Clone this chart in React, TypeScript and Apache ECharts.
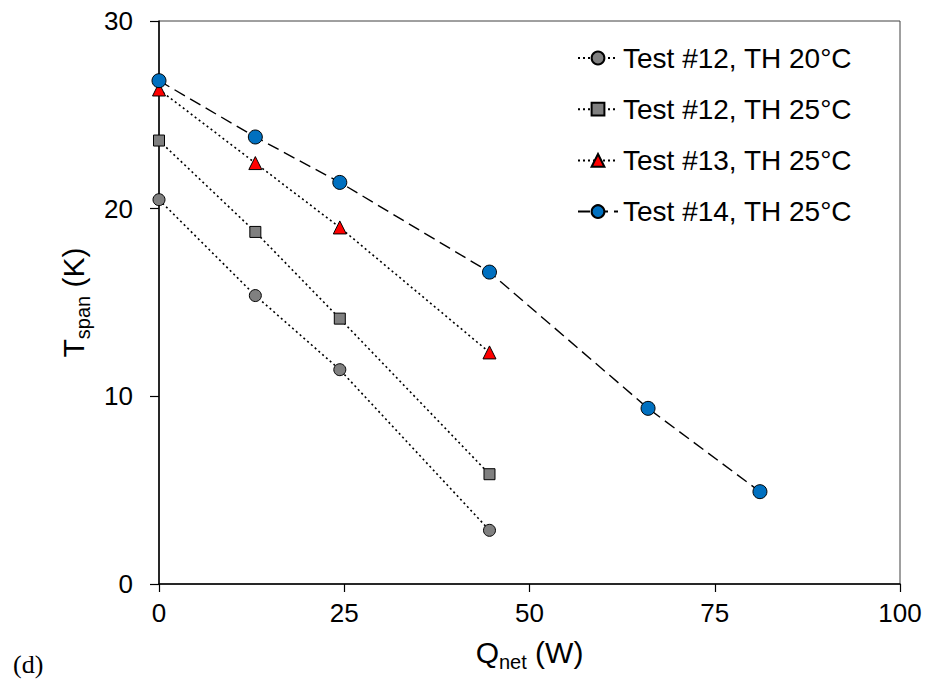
import React, { useEffect, useRef } from "react";
import * as echarts from "echarts";

const seriesNames = [
  "Test #12, TH 20°C",
  "Test #12, TH 25°C",
  "Test #13, TH 25°C",
  "Test #14, TH 25°C",
];
const qShort = [0, 13, 24.4, 44.6];
const qLong = [0, 13, 24.4, 44.6, 66.0, 81.1];
const test12TH20 = [20.48, 15.37, 11.42, 2.86];
const test12TH25 = [23.63, 18.76, 14.14, 5.85];
const test13TH25 = [26.35, 22.43, 19.0, 12.34];
const test14TH25 = [26.82, 23.82, 21.4, 16.62, 9.36, 4.92];
const xTicks = [0, 25, 50, 75, 100];
const yTicks = [0, 10, 20, 30];

const FONT = "Arial, 'Liberation Sans', sans-serif";

function pairs(xs: number[], ys: number[]) {
  return ys.map((y, i) => [xs[i], y]);
}

export default function App() {
  const ref = useRef<HTMLDivElement>(null);
  useEffect(() => {
    if (!ref.current) return;
    const chart = echarts.init(ref.current, undefined, { renderer: "svg" });
    const dotted = { color: "#000", width: 1.6, type: [2, 3] as number[] };
    const dashed = { color: "#000", width: 1.4, type: [12, 6] as number[] };
    const border = { borderColor: "#000", borderWidth: 1 };
    chart.setOption({
      animation: false,
      backgroundColor: "#fff",
      grid: {
        left: 159,
        right: 29,
        top: 21,
        bottom: 100,
        show: true,
        borderColor: "#404040",
        borderWidth: 1,
        backgroundColor: "transparent",
      },
      legend: {
        orient: "vertical",
        left: 577,
        top: 44,
        padding: 0,
        itemWidth: 40,
        itemHeight: 16,
        itemGap: 23.2,
        data: seriesNames,
        textStyle: { fontSize: 28, fontFamily: FONT, color: "#000" },
      },
      xAxis: {
        type: "value",
        min: xTicks[0],
        max: xTicks[xTicks.length - 1],
        interval: 25,
        name: "{m|Q}{s|net}{m| (W)}",
        nameLocation: "middle",
        nameGap: 49,
        nameTextStyle: {
          rich: {
            m: { fontSize: 30, fontFamily: FONT, color: "#000", lineHeight: 30 },
            s: { fontSize: 20, fontFamily: FONT, color: "#000", padding: [19, 0, 0, 0] },
          },
        },
        axisLine: { lineStyle: { color: "#000", width: 1.5 } },
        axisTick: { show: true, inside: false, length: 8, lineStyle: { color: "#000", width: 1.2 } },
        axisLabel: { fontSize: 26, fontFamily: FONT, color: "#000", margin: 16 },
        splitLine: { show: false },
      },
      yAxis: {
        type: "value",
        min: yTicks[0],
        max: yTicks[yTicks.length - 1],
        interval: 10,
        name: "{m|T}{s|span}{m| (K)}",
        nameLocation: "middle",
        nameGap: 55,
        nameTextStyle: {
          rich: {
            m: { fontSize: 30, fontFamily: FONT, color: "#000", lineHeight: 30 },
            s: { fontSize: 20, fontFamily: FONT, color: "#000", padding: [19, 0, 0, 0] },
          },
        },
        axisLine: { show: true, lineStyle: { color: "#000", width: 1.5 } },
        axisTick: { show: true, inside: false, length: 9, lineStyle: { color: "#000", width: 1.2 } },
        axisLabel: { fontSize: 26, fontFamily: FONT, color: "#000", margin: 26 },
        splitLine: { show: false },
      },
      graphic: [
        {
          type: "text",
          left: 13,
          top: 651,
          style: {
            text: "(d)",
            font: "26px 'Liberation Serif', 'Times New Roman', serif",
            fill: "#000",
          },
        },
      ],
      series: [
        {
          name: seriesNames[0],
          type: "line",
          data: pairs(qShort, test12TH20),
          symbol: "circle",
          symbolSize: 12,
          itemStyle: { color: "#808080", ...border },
          lineStyle: dotted,
          z: 2,
        },
        {
          name: seriesNames[1],
          type: "line",
          data: pairs(qShort, test12TH25),
          symbol: "rect",
          symbolSize: 11,
          itemStyle: { color: "#808080", ...border },
          lineStyle: dotted,
          z: 3,
        },
        {
          name: seriesNames[2],
          type: "line",
          data: pairs(qShort, test13TH25),
          symbol: "triangle",
          symbolSize: 13,
          itemStyle: { color: "#FF0000", ...border },
          lineStyle: dotted,
          z: 4,
        },
        {
          name: seriesNames[3],
          type: "line",
          data: pairs(qLong, test14TH25),
          symbol: "circle",
          symbolSize: 14,
          itemStyle: { color: "#0070C0", ...border },
          lineStyle: dashed,
          z: 5,
        },
      ],
    });
    return () => chart.dispose();
  }, []);
  return (
    <div
      ref={ref}
      style={{ position: "fixed", left: 0, top: 0, width: 929, height: 684, background: "#fff" }}
    />
  );
}
